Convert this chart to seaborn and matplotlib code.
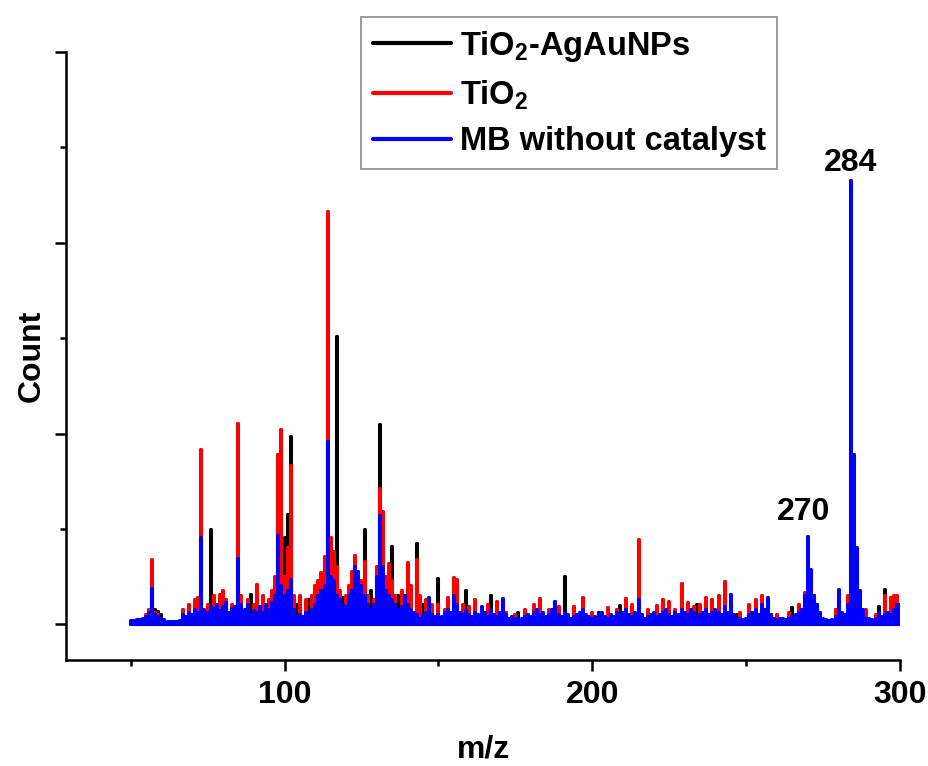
import pandas as pd
import seaborn as sns
import matplotlib.pyplot as plt
from matplotlib.lines import Line2D

# === SPECTRA (m/z, relative count) ===
black_mz = [58, 59, 60, 76, 83, 89, 94, 100, 101, 102, 104, 108, 112, 117, 119, 121,
            126, 128, 131, 133, 135, 137, 139, 143, 145, 150, 153, 159, 162, 167, 172,
            176, 182, 186, 191, 196, 202, 209, 214, 223, 234, 237, 247, 252, 258, 265,
            272, 279, 288, 293, 295, 298]
black_h = [0.15, 0.13, 0.10, 0.99, 0.15, 0.31, 0.20, 0.90, 1.15, 1.96, 0.20, 0.25, 0.30, 3.01, 0.27, 0.20,
           0.99, 0.35, 2.09, 0.30, 0.81, 0.30, 0.25, 0.84, 0.20, 0.47, 0.15, 0.35, 0.15, 0.30, 0.12,
           0.12, 0.10, 0.12, 0.50, 0.10, 0.12, 0.19, 0.10, 0.22, 0.20, 0.22, 0.10, 0.12, 0.10, 0.17,
           0.30, 0.15, 0.12, 0.18, 0.36, 0.15]

red_mz = [55, 56, 57, 58, 59, 67, 69, 71, 72, 73, 75, 77, 79, 80, 81, 83, 85, 86, 88, 90,
          91, 93, 95, 96, 97, 98, 99, 100, 101, 102, 103, 105, 107, 109, 110, 111, 112, 113,
          114, 115, 116, 117, 118, 120, 121, 122, 123, 124, 125, 126, 127, 129, 130, 131, 132,
          133, 134, 135, 136, 138, 140, 141, 143, 144, 146, 148, 150, 152, 153, 155, 156, 158,
          160, 162, 164, 166, 169, 172, 175, 178, 181, 183, 186, 189, 191, 194, 197, 200, 202,
          205, 208, 211, 213, 215, 218, 221, 223, 225, 227, 229, 231, 233, 235, 237, 239, 241,
          243, 245, 248, 251, 253, 255, 257, 260, 264, 267, 269, 271, 273, 279, 283, 285, 287,
          289, 292, 295, 297, 298, 299, 300]
red_h = [0.10, 0.15, 0.67, 0.12, 0.10, 0.15, 0.20, 0.25, 0.28, 1.83, 0.20, 0.30, 0.31, 0.35, 0.25, 0.20, 2.10, 0.30, 0.25, 0.20,
         0.41, 0.30, 0.25, 0.35, 0.50, 1.78, 2.04, 0.50, 0.80, 1.66, 0.30, 0.30, 0.25, 0.30, 0.40, 0.45, 0.54, 0.70,
         4.32, 0.90, 0.76, 0.60, 0.35, 0.30, 0.40, 0.55, 0.72, 0.50, 0.45, 0.65, 0.30, 0.25, 0.60, 1.42, 1.18,
         0.50, 0.63, 0.45, 0.30, 0.35, 0.64, 0.40, 0.67, 0.30, 0.25, 0.20, 0.20, 0.15, 0.28, 0.49, 0.46, 0.20,
         0.18, 0.25, 0.15, 0.20, 0.23, 0.12, 0.10, 0.15, 0.20, 0.26, 0.15, 0.18, 0.10, 0.18, 0.27, 0.12, 0.10,
         0.17, 0.15, 0.26, 0.20, 0.88, 0.15, 0.19, 0.25, 0.23, 0.15, 0.42, 0.22, 0.18, 0.20, 0.28, 0.25, 0.30,
         0.44, 0.20, 0.12, 0.20, 0.25, 0.30, 0.20, 0.10, 0.12, 0.20, 0.33, 0.30, 0.20, 0.15, 0.30, 0.40, 0.25,
         0.15, 0.10, 0.30, 0.28, 0.30, 0.30, 0.20]

blue_mz = list(range(50, 301))
blue_h = [
    0.03, 0.03, 0.04, 0.04, 0.06, 0.08, 0.12, 0.37, 0.10, 0.08,   # 50
    0.06, 0.04, 0.02, 0.02, 0.02, 0.02, 0.03, 0.10, 0.08, 0.12,   # 60
    0.10, 0.15, 0.12, 0.90, 0.15, 0.12, 0.18, 0.16, 0.20, 0.14,   # 70
    0.18, 0.22, 0.12, 0.16, 0.18, 0.68, 0.20, 0.15, 0.20, 0.10,   # 80
    0.14, 0.12, 0.18, 0.12, 0.20, 0.15, 0.22, 0.30, 0.93, 0.40,   # 90
    0.30, 0.35, 0.46, 0.15, 0.08, 0.10, 0.08, 0.12, 0.10, 0.15,   # 100
    0.20, 0.30, 0.35, 0.40, 1.91, 0.50, 0.45, 0.30, 0.25, 0.20,   # 110
    0.18, 0.30, 0.35, 0.60, 0.55, 0.40, 0.30, 0.20, 0.15, 0.20,   # 120
    0.50, 1.14, 0.60, 0.35, 0.30, 0.25, 0.20, 0.15, 0.18, 0.30,   # 130
    0.20, 0.15, 0.12, 0.10, 0.06, 0.10, 0.12, 0.28, 0.10, 0.08,   # 140
    0.10, 0.08, 0.12, 0.15, 0.12, 0.30, 0.20, 0.12, 0.10, 0.14,   # 150
    0.10, 0.08, 0.12, 0.10, 0.18, 0.12, 0.08, 0.15, 0.10, 0.08,   # 160
    0.12, 0.26, 0.10, 0.06, 0.08, 0.05, 0.06, 0.05, 0.08, 0.10,   # 170
    0.08, 0.12, 0.15, 0.10, 0.12, 0.08, 0.10, 0.15, 0.23, 0.10,   # 180
    0.08, 0.12, 0.10, 0.06, 0.08, 0.10, 0.12, 0.15, 0.10, 0.08,   # 190
    0.06, 0.08, 0.10, 0.12, 0.08, 0.06, 0.10, 0.08, 0.12, 0.10,   # 200
    0.12, 0.15, 0.10, 0.08, 0.12, 0.25, 0.10, 0.06, 0.08, 0.10,   # 210
    0.12, 0.08, 0.10, 0.12, 0.15, 0.10, 0.08, 0.12, 0.10, 0.15,   # 220
    0.12, 0.10, 0.15, 0.12, 0.08, 0.10, 0.12, 0.15, 0.10, 0.12,   # 230
    0.15, 0.12, 0.10, 0.18, 0.12, 0.31, 0.10, 0.06, 0.05, 0.04,   # 240
    0.06, 0.10, 0.12, 0.15, 0.10, 0.20, 0.15, 0.27, 0.10, 0.06,   # 250
    0.04, 0.05, 0.06, 0.04, 0.05, 0.08, 0.10, 0.12, 0.15, 0.30,   # 260
    0.92, 0.57, 0.30, 0.20, 0.12, 0.06, 0.04, 0.03, 0.04, 0.08,   # 270
    0.36, 0.12, 0.10, 0.20, 4.65, 1.78, 0.80, 0.35, 0.15, 0.06,   # 280
    0.05, 0.04, 0.06, 0.12, 0.08, 0.10, 0.12, 0.10, 0.15, 0.20,   # 290
    0.20,                                                         # 300
]

series_names = [r"TiO$_\mathregular{2}$-AgAuNPs", r"TiO$_\mathregular{2}$", "MB without catalyst"]
series_colors = ["black", "red", "blue"]
peak_labels = ["270", "284"]
peak_label_pos = [(268.5, 1.18), (284.0, 4.84)]


def stick_frame(mz, h, lo=50, hi=300):
    # each peak becomes a vertical stick drawn from the baseline
    xs, ys = [lo], [0.0]
    for m, v in zip(mz, h):
        xs += [m, m, m]
        ys += [0.0, v, 0.0]
    xs.append(hi)
    ys.append(0.0)
    return pd.DataFrame({"m/z": xs, "Count": ys})


sns.set_style("ticks")
plt.rcParams['font.family'] = ['Liberation Sans', 'DejaVu Sans']
plt.rcParams['font.weight'] = 'bold'
plt.rcParams['mathtext.fontset'] = 'custom'
plt.rcParams['mathtext.rm'] = 'Liberation Sans:bold'
for key in ['text.color', 'axes.labelcolor', 'xtick.color', 'ytick.color', 'axes.edgecolor']:
    plt.rcParams[key] = 'black'

fig = plt.figure(figsize=(9.29, 7.66), dpi=100, facecolor='white')
ax = fig.add_axes([0.071, 0.138, 0.898, 0.794])

for (mz, h), color in zip([(black_mz, black_h), (red_mz, red_h), (blue_mz, blue_h)], series_colors):
    sns.lineplot(data=stick_frame(mz, h), x="m/z", y="Count", estimator=None, sort=False,
                 color=color, linewidth=2.9, ax=ax)

for txt, (x, y) in zip(peak_labels, peak_label_pos):
    ax.text(x, y, txt, ha='center', va='center', fontsize=23, fontweight='bold')

ax.set_xlim(29, 300)
ax.set_ylim(-0.378, 6)
ax.set_xticks([100, 200, 300])
ax.set_xticks([50, 150, 250], minor=True)
ax.set_yticks([0, 2, 4, 6])
ax.set_yticks([1, 3, 5], minor=True)
ax.set_yticklabels([])
ax.tick_params(axis='both', which='major', length=8, width=1.8, direction='out', labelsize=23, pad=6)
ax.tick_params(axis='both', which='minor', length=4.5, width=1.8, direction='out')
sns.despine(ax=ax)
for s in ['left', 'bottom']:
    ax.spines[s].set_linewidth(1.8)

ax.set_xlabel("m/z", fontsize=23, fontweight='bold', labelpad=18)
ax.set_ylabel("Count", fontsize=23, fontweight='bold', labelpad=0)

handles = [Line2D([0], [0], color=c, linewidth=3) for c in series_colors]
leg = fig.legend(handles, series_names, loc='upper left', bbox_to_anchor=(0.389, 0.978),
                 borderaxespad=0, fontsize=23.5, frameon=True, fancybox=False, edgecolor='#7a7a7a',
                 handlelength=2.4, handletextpad=0.25, labelspacing=0.44, borderpad=0.36)
leg.get_frame().set_linewidth(1.3)

plt.savefig("out.png", dpi=100)
